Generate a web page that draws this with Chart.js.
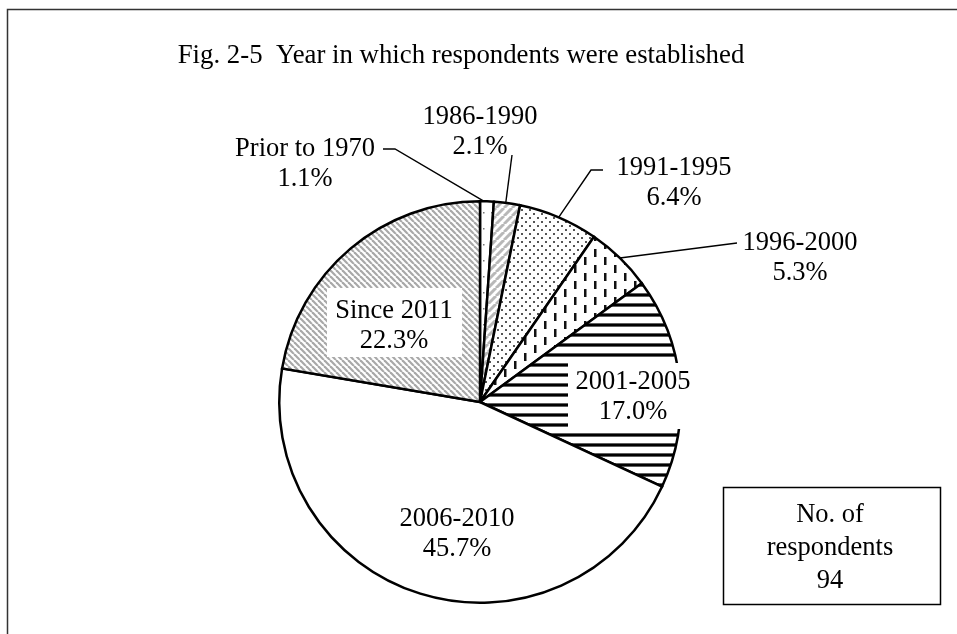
<!DOCTYPE html>
<html>
<head>
<meta charset="utf-8">
<script src="https://cdn.jsdelivr.net/npm/chart.js@4.4.1/dist/chart.umd.min.js"></script>
<style>
html, body { margin: 0; padding: 0; background: #fff; }
#wrap { width: 957px; height: 634px; position: relative; }
</style>
</head>
<body>
<div id="wrap"><canvas id="PieCanvas"></canvas></div>
<script>
// Chart data
const periods = ['Prior to 1970', '1986-1990', '1991-1995', '1996-2000', '2001-2005', '2006-2010', 'Since 2011'];
const shares = [1.1, 2.1, 6.4, 5.3, 17.0, 45.7, 22.3];
const shareText = ['1.1%', '2.1%', '6.4%', '5.3%', '17.0%', '45.7%', '22.3%'];
const respondentsNote = ['No. of', 'respondents', '94'];
const chartTitle = 'Fig. 2-5  Year in which respondents were established';

const FONT = '"Liberation Serif", "DejaVu Serif", serif';

// Fill patterns for each slice
function makePattern(w, h, draw) {
    const c = document.createElement('canvas');
    c.width = w; c.height = h;
    const g = c.getContext('2d');
    g.fillStyle = '#fff';
    g.fillRect(0, 0, w, h);
    draw(g, w, h);
    return g.createPattern(c, 'repeat');
}
function slash(g, s, color, width, back) {
    g.strokeStyle = color; g.lineWidth = width;
    for (let k = -1; k <= 1; k++) {
        g.beginPath();
        if (back) { g.moveTo(k * s, 0); g.lineTo(k * s + s, s); }
        else { g.moveTo(k * s, s); g.lineTo(k * s + s, 0); }
        g.stroke();
    }
}
const fills = [
    makePattern(8, 16, (g) => { g.fillStyle = '#777'; g.fillRect(3, 4, 1.5, 1.5); }),
    makePattern(8, 8, (g) => slash(g, 8, '#b8b8b8', 3, false)),
    makePattern(8, 8, (g) => { g.fillStyle = '#555'; g.fillRect(1, 1, 2, 2); g.fillRect(5, 5, 2, 2); }),
    makePattern(20, 16, (g) => { g.fillStyle = '#111'; g.fillRect(4, 1, 2.5, 8); g.fillRect(14, 9, 2.5, 7); g.fillRect(14, 0, 2.5, 1); }),
    makePattern(8, 10, (g) => { g.fillStyle = '#777'; g.fillRect(0, 3, 8, 4); g.fillStyle = '#000'; g.fillRect(0, 3.8, 8, 2.4); }),
    '#ffffff',
    makePattern(6, 6, (g) => slash(g, 6, '#a8a8a8', 2.2, true))
];

// Label layout: centre x, y of first line, optional white box behind
const labelSpots = [
    { x: 305, y: 149 },
    { x: 480, y: 117 },
    { x: 674, y: 168 },
    { x: 800, y: 243 },
    { x: 633, y: 382, box: [568, 363, 124, 66] },
    { x: 457, y: 519 },
    { x: 394, y: 311, box: [327, 288, 135, 69] }
];
// Leader lines: slice index, fixed points on the label side, then where on the slice arc it ends
const leaders = [
    { i: 0, pts: [[383, 149], [395, 149]], at: 0.3 },
    { i: 1, pts: [[512, 155]], at: 0.45 },
    { i: 2, pts: [[603, 170], [591, 170]], at: 0.5 },
    { i: 3, pts: [[737, 243]], at: 0.5 }
];

const decorPlugin = {
    id: 'decor',
    beforeDraw(chart) {
        const ctx = chart.ctx;
        ctx.save();
        ctx.fillStyle = '#fff';
        ctx.fillRect(0, 0, chart.width, chart.height);
        ctx.restore();
    },
    afterDraw(chart) {
        const ctx = chart.ctx;
        const arcs = chart.getDatasetMeta(0).data;
        ctx.save();
        // frame
        ctx.strokeStyle = '#333';
        ctx.lineWidth = 1.5;
        ctx.beginPath();
        ctx.moveTo(7.5, 634); ctx.lineTo(7.5, 9.5); ctx.lineTo(957, 9.5);
        ctx.stroke();

        // title
        ctx.fillStyle = '#000';
        ctx.font = '26.8px ' + FONT;
        ctx.textAlign = 'center';
        ctx.textBaseline = 'middle';
        ctx.fillText(chartTitle, 461, 56);

        // leader lines
        ctx.strokeStyle = '#000';
        ctx.lineWidth = 1.4;
        leaders.forEach(l => {
            const a = arcs[l.i];
            const ang = a.startAngle + (a.endAngle - a.startAngle) * l.at;
            const ex = a.x + Math.cos(ang) * a.outerRadius;
            const ey = a.y + Math.sin(ang) * a.outerRadius;
            ctx.beginPath();
            ctx.moveTo(l.pts[0][0], l.pts[0][1]);
            l.pts.slice(1).forEach(p => ctx.lineTo(p[0], p[1]));
            ctx.lineTo(ex, ey);
            ctx.stroke();
        });

        // slice labels
        ctx.font = '26.5px ' + FONT;
        periods.forEach((name, i) => {
            const s = labelSpots[i];
            if (s.box) {
                ctx.fillStyle = '#fff';
                ctx.fillRect(s.box[0], s.box[1], s.box[2], s.box[3]);
            }
            ctx.fillStyle = '#000';
            ctx.fillText(name, s.x, s.y);
            ctx.fillText(shareText[i], s.x, s.y + 30);
        });

        // respondents box
        ctx.strokeStyle = '#000';
        ctx.lineWidth = 1.5;
        ctx.strokeRect(723.5, 487.5, 217, 117);
        respondentsNote.forEach((t, k) => ctx.fillText(t, 830, 515 + k * 33));
        ctx.restore();
    }
};

new Chart(document.getElementById('PieCanvas'), {
    type: 'pie',
    data: {
        labels: periods,
        datasets: [{
            data: shares,
            backgroundColor: fills,
            borderColor: '#000',
            borderWidth: 2.5,
            borderJoinStyle: 'miter'
        }]
    },
    options: {
        responsive: true,
        maintainAspectRatio: false,
        animation: false,
        layout: { padding: { top: 199, bottom: 29, left: 278, right: 275 } },
        plugins: {
            legend: { display: false },
            title: { display: false },
            tooltip: { enabled: false }
        }
    },
    plugins: [decorPlugin]
});
</script>
</body>
</html>
